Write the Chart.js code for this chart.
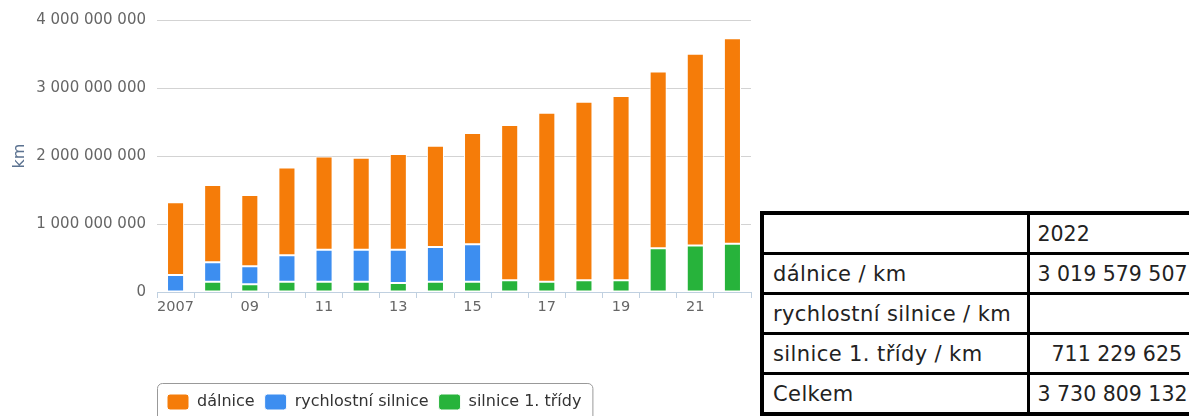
<!DOCTYPE html>
<html>
<head>
<meta charset="utf-8">
<script src="https://cdn.jsdelivr.net/npm/chart.js@4"></script>
<style>
  html, body { margin: 0; padding: 0; background: #fff; overflow: hidden; }
  #wrap { position: absolute; left: 0; top: 0; width: 760px; height: 420px; }
  #tbl {
    position: absolute; left: 760px; top: 211px; width: 433px;
    border-collapse: collapse; table-layout: fixed;
    border: 4px solid #000;
    font-family: "DejaVu Sans", sans-serif; font-size: 21px; letter-spacing: 0.4px;
    color: #222;
  }
  #tbl td { border: 3px solid #000; height: 37px; padding: 0 6px 0 9px; white-space: nowrap; overflow: hidden; }
  #tbl td.val { letter-spacing: 0; font-size: 20.5px; padding-right: 11px; padding-left: 8px; }
  #tbl td.num { text-align: right; }
</style>
</head>
<body>
<div id="wrap"><canvas id="myChart" width="760" height="420"></canvas></div>
<table id="tbl">
  <colgroup><col style="width:266px"><col style="width:167px"></colgroup>
  <tbody id="tblBody"></tbody>
</table>
<script>
const years = [2007, 2008, 2009, 2010, 2011, 2012, 2013, 2014, 2015, 2016, 2017, 2018, 2019, 2020, 2021, 2022];
const dalnice = [1070000000, 1134000000, 1050000000, 1290000000, 1370000000, 1350000000, 1405000000, 1487000000,
                 1635000000, 2283000000, 2484000000, 2626000000, 2710000000, 2600000000, 2823000000, 3019579507];
const rychlostni = [250000000, 286000000, 265000000, 389000000, 471000000, 471000000, 490000000, 511000000,
                    551000000, null, null, null, null, null, null, null];
const silnice1 = [null, 152000000, 113000000, 152000000, 152000000, 152000000, 133000000, 152000000,
                  152000000, 172000000, 152000000, 172000000, 172000000, 644000000, 682000000, 711229625];
const yTicks = [0, 1000000000, 2000000000, 3000000000, 4000000000];

const fmt = (v) => String(v).replace(/\B(?=(\d{3})+(?!\d))/g, ' ');

// table for the last year
const last = years.length - 1;
const rows = [
  ['', String(years[last]), false],
  ['dálnice / km', dalnice[last] == null ? '' : fmt(dalnice[last]), true],
  ['rychlostní silnice / km', rychlostni[last] == null ? '' : fmt(rychlostni[last]), true],
  ['silnice 1. třídy / km', silnice1[last] == null ? '' : fmt(silnice1[last]), true],
  ['Celkem', fmt((dalnice[last] || 0) + (rychlostni[last] || 0) + (silnice1[last] || 0)), true]
];
const body = document.getElementById('tblBody');
rows.forEach(r => {
  const tr = document.createElement('tr');
  const a = document.createElement('td'); a.textContent = r[0];
  const b = document.createElement('td'); b.textContent = r[1];
  b.className = r[2] ? 'val num' : 'val';
  tr.appendChild(a); tr.appendChild(b);
  body.appendChild(tr);
});

// rounded frame round the legend
const legendFrame = {
  id: 'legendFrame',
  afterDraw(chart) {
    const lg = chart.legend;
    if (!lg || !lg.legendHitBoxes.length) return;
    let right = 0;
    lg.legendHitBoxes.forEach(h => { right = Math.max(right, h.left + h.width); });
    const ctx = chart.ctx;
    ctx.save();
    ctx.strokeStyle = '#999';
    ctx.lineWidth = 1;
    ctx.beginPath();
    ctx.roundRect(lg.left + 0.5, lg.top - 0.5, right + 11 - lg.left, lg.bottom - lg.top + 4, 5);
    ctx.stroke();
    ctx.restore();
  }
};

const ctx = document.getElementById('myChart').getContext('2d');
const myChart = new Chart(ctx, {
  type: 'bar',
  data: {
    labels: years,
    datasets: [
      { label: 'silnice 1. třídy', data: silnice1, backgroundColor: '#27b33b' },
      { label: 'rychlostní silnice', data: rychlostni, backgroundColor: '#3d8ef0' },
      { label: 'dálnice', data: dalnice, backgroundColor: '#f57c09' }
    ]
  },
  options: {
    responsive: false,
    animation: false,
    layout: { padding: { left: 0, right: 9, top: 19, bottom: 0 } },
    datasets: {
      bar: {
        categoryPercentage: 1,
        barPercentage: 0.46,
        borderColor: '#ffffff',
        borderWidth: 1,
        borderSkipped: false
      }
    },
    plugins: {
      tooltip: { enabled: false },
      legend: {
        position: 'bottom',
        align: 'start',
        fullSize: false,
        reverse: true,
        labels: {
          boxWidth: 22,
          boxHeight: 16,
          padding: 10,
          useBorderRadius: true,
          borderRadius: 3,
          color: '#333',
          font: { family: '"DejaVu Sans", sans-serif', size: 16 }
        }
      }
    },
    scales: {
      x: {
        stacked: true,
        afterFit: (s) => { s.height = 92; },
        border: { display: true, color: '#c0d0e0', width: 1 },
        grid: { offset: true, drawOnChartArea: false, drawTicks: true, tickLength: 6, color: '#c0d0e0' },
        ticks: {
          autoSkip: false, maxRotation: 0, padding: 1, color: '#666',
          font: { family: '"DejaVu Sans", sans-serif', size: 14.5 },
          callback: function (val, i) {
            if (i % 2) return '';
            return i === 0 ? String(years[i]) : String(years[i] % 100).padStart(2, '0');
          }
        }
      },
      y: {
        stacked: true,
        min: yTicks[0],
        max: yTicks[yTicks.length - 1],
        afterFit: (s) => { s.width = 157; },
        afterBuildTicks: (s) => { s.ticks = yTicks.map(v => ({ value: v })); },
        border: { display: false },
        grid: {
          drawTicks: false,
          color: (c) => (c.tick && c.tick.value === 0 ? 'rgba(0,0,0,0)' : '#d3d3d3')
        },
        ticks: {
          padding: 11, color: '#666',
          font: { family: '"DejaVu Sans", sans-serif', size: 15 },
          callback: (v) => fmt(v)
        },
        title: {
          display: true, text: 'km', color: '#5b7290',
          padding: { top: 10, bottom: 0 },
          font: { family: '"DejaVu Sans", sans-serif', size: 16 }
        }
      }
    }
  },
  plugins: [legendFrame]
});
</script>
</body>
</html>
